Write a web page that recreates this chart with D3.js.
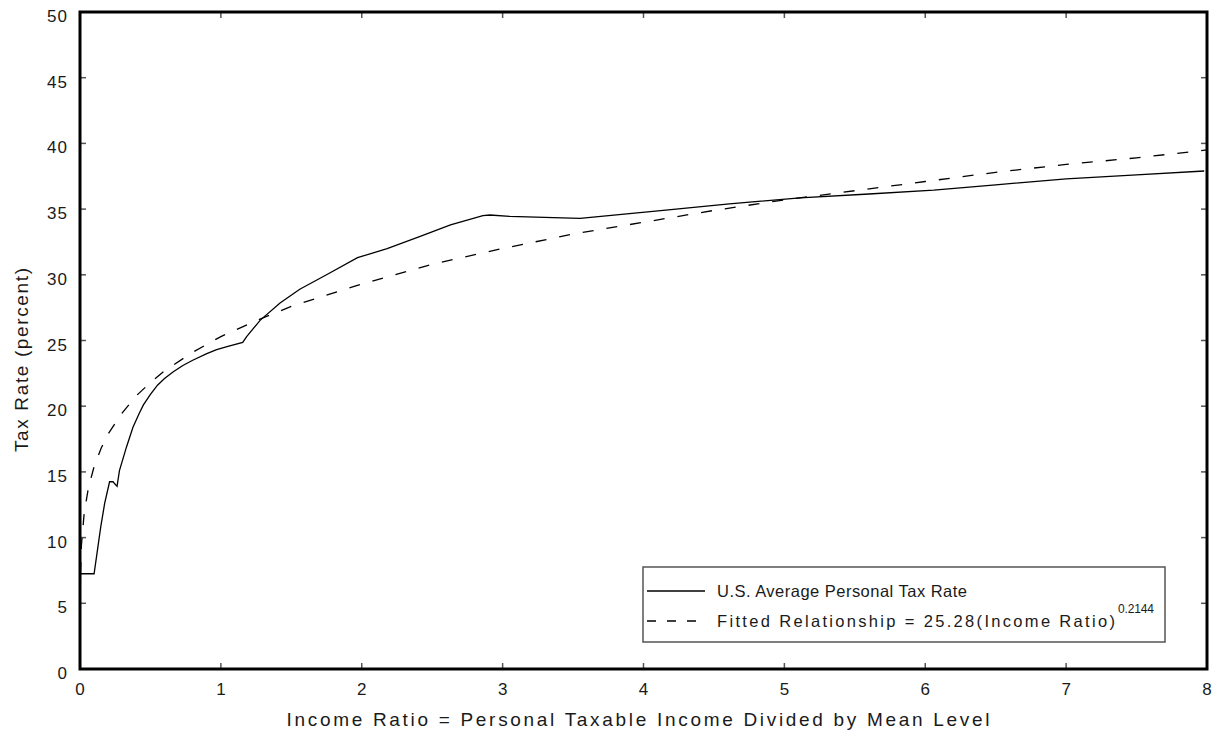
<!DOCTYPE html>
<html><head><meta charset="utf-8">
<script src="https://cdn.jsdelivr.net/npm/d3@7"></script>
<style>
html,body{margin:0;padding:0;background:#fff;}
svg text{font-family:"Liberation Sans","DejaVu Sans",sans-serif;fill:#1a1a1a;}
</style></head>
<body><svg id="chart" width="1222" height="740"></svg>
<script>
// Actual tax rate (solid)
const actualX = [0, 0.003, 0.10, 0.147, 0.175, 0.21, 0.234, 0.263, 0.28, 0.33, 0.376, 0.42, 0.45, 0.5, 0.55, 0.6, 0.66, 0.73, 0.80, 0.9, 0.97, 1.05, 1.155, 1.183, 1.28, 1.42, 1.56, 1.75, 1.97, 2.18, 2.41, 2.63, 2.86, 2.91, 3.05, 3.36, 3.55, 3.90, 4.14, 4.61, 5.11, 5.6, 6.06, 6.5, 7.0, 7.5, 7.98];
const actualY = [0, 7.25, 7.25, 10.8, 12.6, 14.25, 14.25, 13.9, 15.1, 16.9, 18.4, 19.45, 20.1, 20.9, 21.6, 22.1, 22.6, 23.1, 23.5, 24.0, 24.3, 24.55, 24.85, 25.3, 26.55, 27.85, 28.9, 30.0, 31.3, 32.0, 32.9, 33.8, 34.5, 34.55, 34.45, 34.35, 34.3, 34.65, 34.9, 35.4, 35.85, 36.15, 36.45, 36.85, 37.3, 37.6, 37.9];
// Fitted relationship (dashed)
const fitX = [0, 0.002, 0.01, 0.03, 0.06, 0.1, 0.15, 0.2, 0.3, 0.4, 0.5, 0.6, 0.8, 1.0, 1.25, 1.5, 2, 2.5, 3, 3.5, 4, 4.5, 5, 5.5, 6, 6.5, 7, 7.5, 8];
const fitY = [0, 6.7, 9.4, 11.9, 13.8, 15.4, 16.8, 17.9, 19.5, 20.8, 21.8, 22.7, 24.1, 25.3, 26.5, 27.6, 29.3, 30.8, 32.0, 33.1, 34.0, 34.9, 35.7, 36.4, 37.1, 37.8, 38.4, 38.9, 39.5];
const xTicks = [0, 1, 2, 3, 4, 5, 6, 7, 8];
const yTicks = [0, 5, 10, 15, 20, 25, 30, 35, 40, 45, 50];
const legendLabels = ["U.S. Average Personal Tax Rate", "Fitted Relationship = 25.28(Income Ratio)", "0.2144"];
const xTitle = "Income Ratio = Personal Taxable Income Divided by Mean Level";
const yTitle = "Tax Rate (percent)";

const svg = d3.select("#chart");
const L = 80, R = 1207, T = 12, B = 669;
const x = d3.scaleLinear().domain([0, 8]).range([L, R]);
const y = d3.scaleLinear().domain([0, 50]).range([B, T]);

svg.append("defs").append("clipPath").attr("id", "clip")
  .append("rect").attr("x", L).attr("y", T).attr("width", R - L).attr("height", B - T);

// ticks on all four sides (inward)
const tickLen = 6;
const tg = svg.append("g").attr("stroke", "#555").attr("stroke-width", 1.5);
xTicks.forEach(t => {
  tg.append("line").attr("x1", x(t)).attr("x2", x(t)).attr("y1", B).attr("y2", B - tickLen);
  tg.append("line").attr("x1", x(t)).attr("x2", x(t)).attr("y1", T).attr("y2", T + tickLen);
});
yTicks.forEach(t => {
  tg.append("line").attr("x1", L).attr("x2", L + tickLen).attr("y1", y(t)).attr("y2", y(t));
  tg.append("line").attr("x1", R).attr("x2", R - tickLen).attr("y1", y(t)).attr("y2", y(t));
});

// tick labels
svg.append("g").selectAll("text").data(xTicks).join("text")
  .attr("x", d => x(d)).attr("y", B + 26).attr("text-anchor", "middle")
  .attr("font-size", 17).text(d => d);
svg.append("g").selectAll("text").data(yTicks).join("text")
  .attr("x", L - 12).attr("y", d => y(d) + 10).attr("text-anchor", "end")
  .attr("font-size", 17).attr("letter-spacing", 1).text(d => d);

// data lines
const line = d3.line().x(d => x(d[0])).y(d => y(d[1]));
const plot = svg.append("g").attr("clip-path", "url(#clip)");
plot.append("path").datum(fitX.map((v, i) => [v, fitY[i]]))
  .attr("d", line).attr("fill", "none").attr("stroke", "#000")
  .attr("stroke-width", 1.3).attr("stroke-dasharray", "11,13");
plot.append("path").datum(actualX.map((v, i) => [v, actualY[i]]))
  .attr("d", line).attr("fill", "none").attr("stroke", "#000")
  .attr("stroke-width", 1.3);

// frame
svg.append("rect").attr("x", L).attr("y", T).attr("width", R - L).attr("height", B - T)
  .attr("fill", "none").attr("stroke", "#000").attr("stroke-width", 3);

// legend
const lg = svg.append("g");
lg.append("rect").attr("x", 643).attr("y", 567).attr("width", 522).attr("height", 75)
  .attr("fill", "#fff").attr("stroke", "#555").attr("stroke-width", 1.5);
lg.append("line").attr("x1", 647).attr("x2", 705).attr("y1", 591).attr("y2", 591)
  .attr("stroke", "#000").attr("stroke-width", 1.3);
lg.append("line").attr("x1", 647).attr("x2", 705).attr("y1", 621).attr("y2", 621)
  .attr("stroke", "#000").attr("stroke-width", 1.3).attr("stroke-dasharray", "9,11");
lg.append("text").attr("x", 717).attr("y", 597).attr("font-size", 16.5)
  .attr("textLength", 250).attr("lengthAdjust", "spacing").text(legendLabels[0]);
lg.append("text").attr("x", 717).attr("y", 627).attr("font-size", 16.5)
  .attr("textLength", 398).attr("lengthAdjust", "spacing").text(legendLabels[1]);
lg.append("text").attr("x", 1118).attr("y", 613).attr("font-size", 12)
  .attr("textLength", 36).attr("lengthAdjust", "spacing").text(legendLabels[2]);

// axis titles
svg.append("text").attr("x", 638).attr("y", 726).attr("text-anchor", "middle")
  .attr("font-size", 19).attr("textLength", 703).attr("lengthAdjust", "spacing").text(xTitle);
svg.append("text").attr("transform", "translate(28,360) rotate(-90)")
  .attr("text-anchor", "middle").attr("font-size", 19)
  .attr("textLength", 184).attr("lengthAdjust", "spacing").text(yTitle);
</script></body></html>
